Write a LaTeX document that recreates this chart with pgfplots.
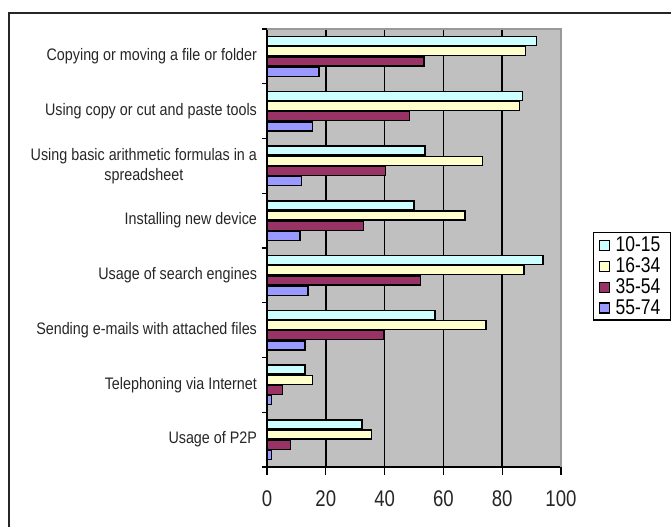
\documentclass[border=0pt]{standalone}
\usepackage{fontspec}
\setmainfont{Liberation Sans}
\newfontfamily\labfont[FakeStretch=0.86]{Liberation Sans}
\newfontfamily\tickfont[FakeStretch=0.82]{Liberation Sans}
\usepackage{pgfplots}
\pgfplotsset{compat=1.18}
\definecolor{cA}{HTML}{CCFFFF}
\definecolor{cB}{HTML}{FFFFCC}
\definecolor{cC}{HTML}{993366}
\definecolor{cD}{HTML}{9999FF}
\definecolor{bg}{HTML}{C0C0C0}
\begin{document}
\begin{tikzpicture}
\useasboundingbox (0,0) rectangle (503.25pt,394.5pt);
\draw[line width=1.4pt, black!85] (6.75pt,-20pt) rectangle (530pt,384.75pt);
\begin{axis}[
  at={(200.25pt,44.25pt)}, anchor=south west,
  scale only axis, width=220.5pt, height=328.5pt,
  xmin=0, xmax=100, ymin=-0.5, ymax=7.5,
  axis background/.style={fill=bg},
  axis line style={draw=none},
  xtick={0,20,...,100},
  ytick={0,...,7},
  yticklabels={Usage of P2P, Telephoning via Internet, Sending e-mails with attached files, Usage of search engines, Installing new device, {Using basic arithmetic formulas in a\\spreadsheet}, Using copy or cut and paste tools, Copying or moving a file or folder},
  minor ytick={-0.5,0.5,...,7.5},
  tick pos=left,
  tick align=outside,
  major tick length=6pt,
  minor tick length=4pt,
  major y tick style={draw=none},
  minor y tick style={draw=black, line width=1pt},
  major x tick style={draw=black, line width=1pt},
  xmajorgrids=true,
  grid style={black, line width=1.3pt},
  yticklabel style={font=\labfont\fontsize{12.5}{15}\selectfont, align=center, text=black!85, xshift=2pt},
  xticklabel style={font=\tickfont\fontsize{17}{19}\selectfont, text=black!85, yshift=-8pt},
  /pgf/number format/assume math mode=true,
  legend style={at={(1.109,0.5365)}, anchor=north west, draw=black, line width=1pt,
    font=\tickfont\fontsize{16}{17}\selectfont, row sep=3pt, inner xsep=4pt, inner ysep=3pt,
    nodes={inner ysep=0pt, inner xsep=4pt}},
  legend cell align=left,
  legend image code/.code={\draw[#1] (0pt,-4pt) rectangle (7.5pt,3.5pt);},
  after end axis/.code={
    \draw[black, line width=1.2pt] (axis description cs:0,1) -- (axis description cs:0,0) -- (axis description cs:1,0);
    \draw[gray!80, line width=1pt] (axis description cs:0,1) -- (axis description cs:1,1) -- (axis description cs:1,0);
  },
]
\addplot[xbar, bar width=0.165, bar shift=0.279, fill=cA, draw=black, line width=1pt] coordinates {
  (32.3,0) (12.9,1) (57.1,2) (93.9,3) (50.0,4) (53.7,5) (86.8,6) (91.7,7)};
\addplot[xbar, bar width=0.165, bar shift=0.093, fill=cB, draw=black, line width=1pt] coordinates {
  (35.6,0) (15.5,1) (74.5,2) (87.4,3) (67.3,4) (73.4,5) (85.8,6) (88.0,7)};
\addplot[xbar, bar width=0.165, bar shift=-0.093, fill=cC, draw=black, line width=1pt] coordinates {
  (8.1,0) (5.3,1) (39.8,2) (52.3,3) (32.9,4) (40.2,5) (48.5,6) (53.4,7)};
\addplot[xbar, bar width=0.165, bar shift=-0.279, fill=cD, draw=black, line width=1pt] coordinates {
  (1.5,0) (1.5,1) (12.9,2) (13.9,3) (11.2,4) (11.7,5) (15.5,6) (17.7,7)};
\legend{10-15, 16-34, 35-54, 55-74}
\end{axis}
\end{tikzpicture}
\end{document}
